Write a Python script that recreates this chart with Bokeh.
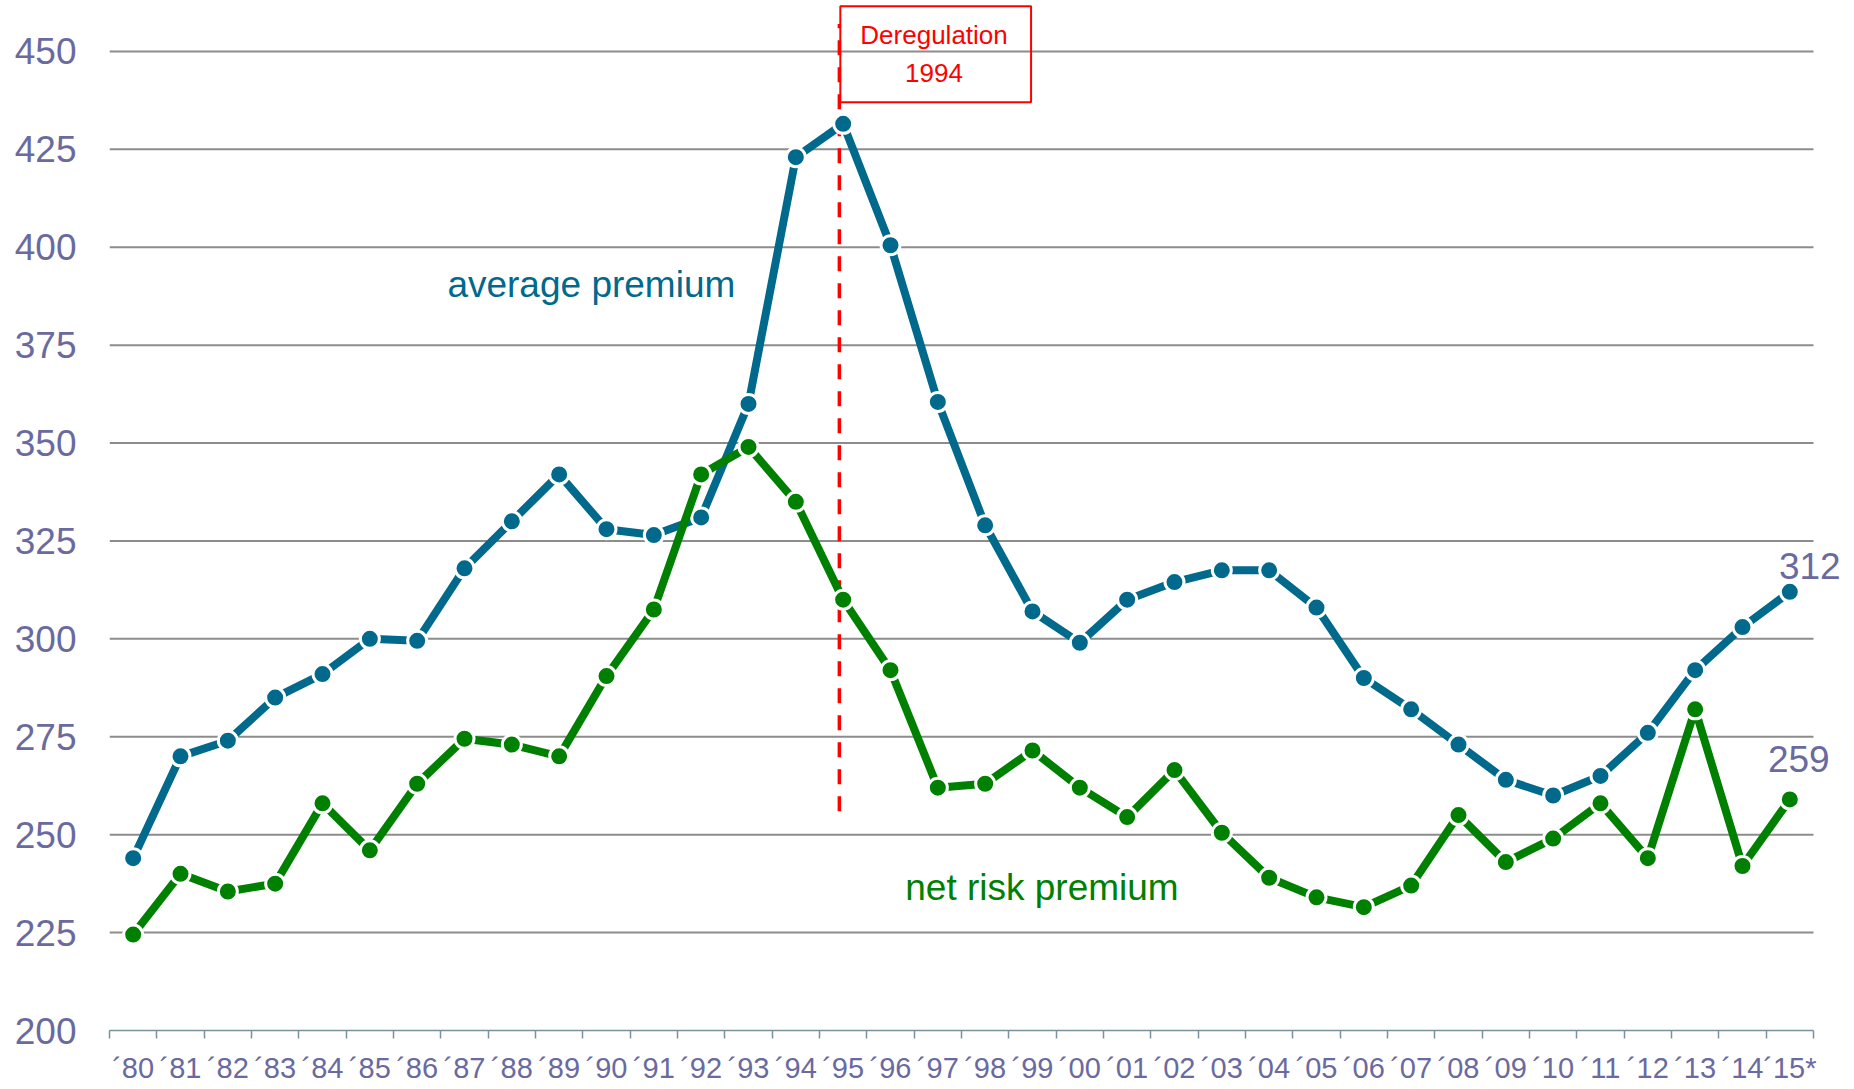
from bokeh.plotting import figure
from bokeh.models import FixedTicker, ColumnDataSource, BoxAnnotation
from bokeh.core.properties import value
from bokeh.embed import file_html
from bokeh.resources import INLINE

# ---- data ----
years = list(range(1980, 2016))
tick_labels = ["´80", "´81", "´82", "´83", "´84", "´85", "´86", "´87", "´88", "´89",
               "´90", "´91", "´92", "´93", "´94", "´95", "´96", "´97", "´98", "´99",
               "´00", "´01", "´02", "´03", "´04", "´05", "´06", "´07", "´08", "´09",
               "´10", "´11", "´12", "´13", "´14", "´15*"]
average_premium = [244, 270, 274, 285, 291, 300, 299.5, 318, 330, 342,
                   328, 326.5, 331, 360, 423, 431.5, 400.5, 360.5, 329, 307,
                   299, 310, 314.5, 317.5, 317.5, 308, 290, 282, 273, 264,
                   260, 265, 276, 292, 303, 312]
net_risk_premium = [224.5, 240, 235.5, 237.5, 258, 246, 263, 274.5, 273, 270,
                    290.5, 307.5, 342, 349, 335, 310, 292, 262, 263, 271.5,
                    262, 254.5, 266.5, 250.5, 239, 234, 231.5, 237, 255, 243,
                    249, 258, 244, 282, 242, 259]
y_ticks = [200, 225, 250, 275, 300, 325, 350, 375, 400, 425, 450]
deregulation_year = 1994

BLUE = "#00698C"
GREEN = "#008000"
LABEL = "#6A6AA0"
RED = "#FF0000"
FONT = "Liberation Sans"

x_lo, x_hi = years[0] - 0.5, years[-1] + 0.5

p = figure(width=1854, height=1088, output_backend="svg", toolbar_location=None,
           x_range=(x_lo, x_hi + 0.782), y_range=(200, 463.0),
           min_border_left=109, min_border_right=4, min_border_top=0,
           min_border_bottom=58)
p.outline_line_color = None
p.background_fill_color = "white"
p.xgrid.grid_line_color = None
p.ygrid.grid_line_color = None

# y axis
p.yaxis.ticker = FixedTicker(ticks=y_ticks)
p.yaxis.axis_line_color = None
p.yaxis.major_tick_line_color = None
p.yaxis.minor_tick_line_color = None
p.yaxis.major_tick_out = 0
p.yaxis.major_label_standoff = 33
p.yaxis.major_label_text_font = FONT
p.yaxis.major_label_text_font_size = "37px"
p.yaxis.major_label_text_color = LABEL

# horizontal grid lines, bounded to the category span
p.segment(x0=[x_lo] * (len(y_ticks) - 1), x1=[x_hi] * (len(y_ticks) - 1),
          y0=y_ticks[1:], y1=y_ticks[1:], line_color="#8C8C8C", line_width=2)

# x axis: labels at year centres, ticks at boundaries
p.xaxis.bounds = (x_lo, x_hi)
p.xaxis.ticker = FixedTicker(ticks=years,
                             minor_ticks=[y - 0.5 for y in years] + [x_hi])
p.xaxis.major_label_overrides = {y: lab for y, lab in zip(years, tick_labels)}
p.xaxis.axis_line_color = "#7A929C"
p.xaxis.axis_line_width = 1.5
p.xaxis.major_tick_line_color = None
p.xaxis.major_tick_out = 0
p.xaxis.major_tick_in = 0
p.xaxis.minor_tick_line_color = "#7A929C"
p.xaxis.minor_tick_line_width = 1.5
p.xaxis.minor_tick_out = 8
p.xaxis.minor_tick_in = 0
p.xaxis.major_label_standoff = 13
p.xaxis.major_label_text_font = FONT
p.xaxis.major_label_text_font_size = "29px"
p.xaxis.major_label_text_color = LABEL

# deregulation marker
dl = deregulation_year + 0.92
p.segment(x0=[dl], y0=[256], x1=[dl], y1=[457], line_color=RED, line_width=3.5,
          line_dash="15 12")
p.add_layout(BoxAnnotation(left=deregulation_year + 0.94, right=deregulation_year + 4.97,
                           bottom=437, top=461.5, fill_alpha=0, line_color=RED,
                           line_alpha=1, line_width=2))
p.text(x=[deregulation_year + 2.92, deregulation_year + 2.92], y=[454.1, 444.6],
       text=["Deregulation", str(deregulation_year)], text_color=RED,
       text_font=value(FONT), text_font_size="26px", text_align="center",
       text_baseline="middle")

# series
src = ColumnDataSource(dict(x=years, avg=average_premium, net=net_risk_premium))
p.line("x", "avg", source=src, line_color=BLUE, line_width=8)
p.scatter("x", "avg", source=src, size=19, fill_color=BLUE, line_color="white",
          line_width=3)
p.line("x", "net", source=src, line_color=GREEN, line_width=8)
p.scatter("x", "net", source=src, size=19, fill_color=GREEN, line_color="white",
          line_width=3)

# series labels
p.text(x=[1989.68], y=[390.5], text=["average premium"], text_color=BLUE,
       text_font=value(FONT), text_font_size="37px", text_align="center",
       text_baseline="middle")
p.text(x=[1999.2], y=[236.5], text=["net risk premium"], text_color=GREEN,
       text_font=value(FONT), text_font_size="37px", text_align="center",
       text_baseline="middle")

# end value labels
p.text(x=[years[-1]], y=[average_premium[-1]], text=[str(round(average_premium[-1]))],
       text_color=LABEL, text_font=value(FONT), text_font_size="37px",
       text_align="center", text_baseline="middle", x_offset=20, y_offset=-26)
p.text(x=[years[-1]], y=[net_risk_premium[-1]], text=[str(round(net_risk_premium[-1]))],
       text_color=LABEL, text_font=value(FONT), text_font_size="37px",
       text_align="center", text_baseline="middle", x_offset=9, y_offset=-40)

open("out.html", "w").write(file_html(p, INLINE))
